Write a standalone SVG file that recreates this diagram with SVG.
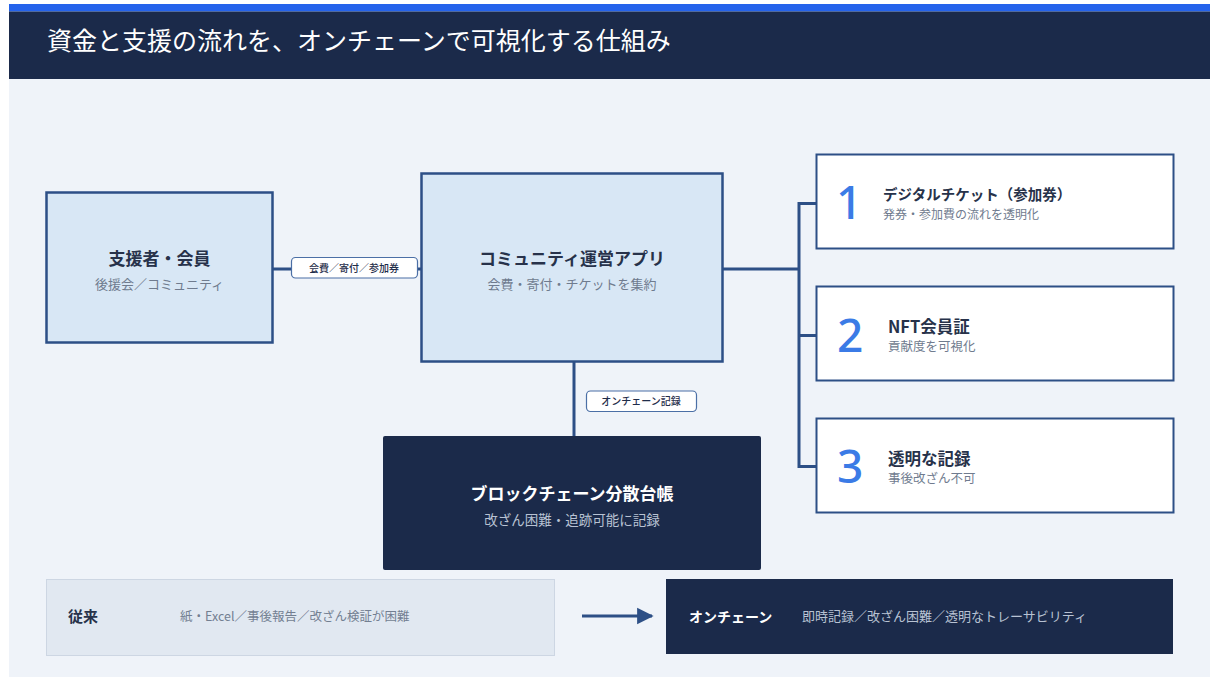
<svg xmlns="http://www.w3.org/2000/svg" width="1210" height="678" viewBox="0 0 1210 678">
<defs>
<style>
text{font-family:"Noto Sans CJK JP","Noto Sans",sans-serif;}
.ttl{font-size:17px;font-weight:700;fill:#27324a;text-anchor:middle;}
.sub{font-size:13px;fill:#6f7b8e;text-anchor:middle;}
.box{fill:#d8e7f5;stroke:#2d4f86;stroke-width:2.5;}
.card{fill:#ffffff;stroke:#2d4f86;stroke-width:2;}
.num{font-family:"Noto Sans","Liberation Sans",sans-serif;font-size:46px;font-weight:500;fill:#3b7be6;}
.ctl{font-weight:700;fill:#27324a;}
.csub{font-size:12.5px;fill:#6f7b8e;}
.pill{fill:#ffffff;stroke:#4b6fa6;stroke-width:1.2;}
.ptx{font-size:10px;font-weight:500;fill:#1f2d4a;text-anchor:middle;}
.conn{stroke:#2d4f86;stroke-width:3;fill:none;}
</style>
<marker id="ah" viewBox="0 0 10 10" refX="9" refY="5" markerWidth="5.5" markerHeight="6.5" markerUnits="strokeWidth" orient="auto">
<path d="M0,0 L10,5 L0,10 Z" fill="#2d4f86"/>
</marker>
</defs>
<rect x="0" y="0" width="1210" height="678" fill="#ffffff"/>
<rect x="9" y="4" width="1201" height="673" fill="#eff3f9"/>
<g id="header">
<rect x="9" y="4" width="1201" height="7.5" fill="#2563eb"/>
<rect x="9" y="11.5" width="1201" height="67.5" fill="#1b2a4a"/>
<text x="47" y="50" font-size="25" fill="#ffffff" font-weight="400">資金と支援の流れを、オンチェーンで可視化する仕組み</text>
</g>
<g id="connectors">
<line class="conn" x1="272" y1="269" x2="421" y2="269"/>
<line class="conn" x1="574" y1="361" x2="574" y2="436"/>
<polyline class="conn" points="722,269 799,269"/>
<line class="conn" x1="799" y1="202" x2="799" y2="468"/>
<line class="conn" x1="799" y1="203.5" x2="816" y2="203.5"/>
<line class="conn" x1="799" y1="335.5" x2="816" y2="335.5"/>
<line class="conn" x1="799" y1="466.5" x2="816" y2="466.5"/>
<g id="label-fees">
<rect class="pill" x="291.5" y="257.5" width="126" height="20.5" rx="4"/>
<text class="ptx" x="354" y="271.5">会費／寄付／参加券</text>
</g>
<g id="label-onchain">
<rect class="pill" x="586.5" y="391" width="110" height="20.5" rx="4"/>
<text class="ptx" x="641" y="405">オンチェーン記録</text>
</g>
</g>
<g id="supporters">
<rect class="box" x="46.5" y="192.5" width="226" height="150"/>
<text class="ttl" x="159.5" y="265">支援者・会員</text>
<text class="sub" x="159.5" y="289">後援会／コミュニティ</text>
</g>
<g id="app">
<rect class="box" x="421.5" y="173.5" width="301" height="188"/>
<text class="ttl" x="572" y="265">コミュニティ運営アプリ</text>
<text class="sub" x="572" y="289">会費・寄付・チケットを集約</text>
</g>
<g id="ledger">
<rect x="383" y="436" width="378" height="134" rx="2" fill="#1b2a4a"/>
<text class="ttl" x="572" y="500" style="fill:#ffffff">ブロックチェーン分散台帳</text>
<text class="sub" x="572" y="525" style="fill:#b8c2d3;font-size:13.5px">改ざん困難・追跡可能に記録</text>
</g>
<g id="card1">
<rect class="card" x="816.5" y="154.5" width="357" height="94"/>
<text class="num" x="836" y="219">1</text>
<text class="ctl" x="883" y="200" font-size="14.5">デジタルチケット（参加券）</text>
<text class="csub" x="883" y="219" style="font-size:12px">発券・参加費の流れを透明化</text>
</g>
<g id="card2">
<rect class="card" x="816.5" y="286.5" width="357" height="94"/>
<text class="num" x="837" y="352">2</text>
<text class="ctl" x="888" y="333" font-size="16.5">NFT会員証</text>
<text class="csub" x="888" y="351">貢献度を可視化</text>
</g>
<g id="card3">
<rect class="card" x="816.5" y="418.5" width="357" height="94"/>
<text class="num" x="837" y="483">3</text>
<text class="ctl" x="888" y="465" font-size="16.5">透明な記録</text>
<text class="csub" x="888" y="483">事後改ざん不可</text>
</g>
<g id="legacy">
<rect x="46.5" y="579.5" width="508" height="76" fill="#e1e8f1" stroke="#cdd6e3" stroke-width="1"/>
<text x="68" y="622" font-size="15" font-weight="700" fill="#27324a">従来</text>
<text x="180" y="621" font-size="12.5" fill="#737f91">紙・Excel／事後報告／改ざん検証が困難</text>
</g>
<g id="transition">
<line class="conn" x1="582" y1="616" x2="652" y2="616" marker-end="url(#ah)"/>
</g>
<g id="onchain">
<rect x="666" y="579" width="507" height="75" fill="#1b2a4a"/>
<text x="689" y="622" font-size="14" font-weight="700" fill="#ffffff">オンチェーン</text>
<text x="802" y="621" font-size="13" fill="#b8c2d3">即時記録／改ざん困難／透明なトレーサビリティ</text>
</g>
</svg>
